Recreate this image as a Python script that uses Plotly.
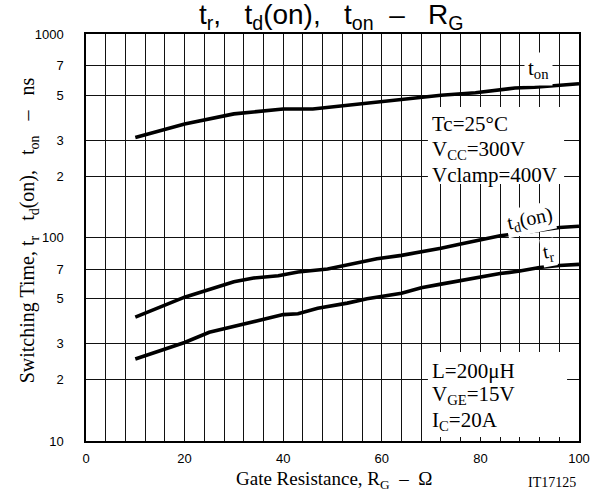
import plotly.graph_objects as go

# ---- data ----
rg_ton = [10, 20, 30, 36, 40, 46, 51, 57, 64, 72, 79, 87, 91, 100]
t_on = [310, 361, 405, 421, 428, 428, 441, 455, 474, 500, 514, 543, 547, 570]

rg_tdon = [10, 20, 30, 34, 39, 43, 49, 59, 64, 68, 72, 76, 80, 84, 88, 92, 96, 100]
t_don = [40.6, 50.9, 60.6, 63.2, 64.9, 67.7, 70, 78.6, 81.7, 85, 88.5, 93, 97.7, 102, 105, 108, 112, 113.5]

rg_tr = [10, 20, 25, 30, 35, 40, 43, 47, 53, 57, 64, 68, 72, 76, 80, 84, 88, 92, 96, 100]
t_r = [25.3, 30.5, 34.2, 36.6, 39.2, 41.8, 42.2, 44.9, 47.6, 50, 53.2, 56.6, 59, 61.4, 63.8, 66.5, 68.4, 71.2, 72.9, 73.8]

x_tickvals = list(range(0, 101, 4))
x_ticktext = [str(v) if v % 20 == 0 else "" for v in x_tickvals]
y_tickvals = [10, 20, 30, 50, 70, 100, 200, 300, 500, 700, 1000]
y_ticktext = ["10", "2", "3", "5", "7", "100", "2", "3", "5", "7", "1000"]

cond_upper = ["Tc=25°C", "V<sub>CC</sub>=300V", "Vclamp=400V"]
cond_lower = ["L=200μH", "V<sub>GE</sub>=15V", "I<sub>C</sub>=20A"]

SANS = "Liberation Sans, Arial, sans-serif"
SERIF = "Liberation Serif, Times New Roman, serif"
NB = "\u00a0"

L, R, T, B = 86, 20, 34, 54
W, H = 602, 495
PW, PH = W - L - R, H - T - B


def px(xp):
    return (xp - L) / PW


def py(yp):
    return (H - B - yp) / PH


fig = go.Figure()
for xs, ys in [(rg_ton, t_on), (rg_tdon, t_don), (rg_tr, t_r)]:
    fig.add_trace(go.Scatter(x=xs, y=ys, mode="lines",
                             line=dict(color="black", width=3.6),
                             showlegend=False, hoverinfo="skip"))

fig.update_layout(
    width=W, height=H,
    margin=dict(l=L, r=R, t=T, b=B),
    paper_bgcolor="white", plot_bgcolor="white",
    showlegend=False,
)
fig.update_xaxes(
    range=[0, 100], tickmode="array", tickvals=x_tickvals, ticktext=x_ticktext,
    showgrid=True, gridcolor="#111", gridwidth=1.2,
    showline=True, linecolor="black", linewidth=1.5, mirror=True,
    ticks="", tickfont=dict(family=SANS, size=13, color="black"),
    ticklabelstandoff=5, zeroline=False,
)
fig.update_yaxes(
    type="log", range=[1, 3], tickmode="array", tickvals=y_tickvals, ticktext=y_ticktext,
    showgrid=True, gridcolor="#111", gridwidth=1.2,
    showline=True, linecolor="black", linewidth=1.5, mirror=True,
    ticks="", tickfont=dict(family=SANS, size=13, color="black"),
    ticklabelstandoff=18, zeroline=False,
)

# white backgrounds behind the condition texts (cover the grid)
shapes = [
    dict(type="rect", xref="paper", yref="paper", x0=px(430), x1=px(567), y0=py(184), y1=py(107),
         fillcolor="white", line=dict(width=0), layer="above"),
    dict(type="rect", xref="paper", yref="paper", x0=px(430), x1=px(570), y0=py(437), y1=py(352),
         fillcolor="white", line=dict(width=0), layer="above"),
]
fig.update_layout(shapes=shapes)

ann = []
# chart title
ann.append(dict(text="t<sub>r</sub>," + NB * 3 + "t<sub>d</sub>(on)," + NB * 3 + "t<sub>on</sub>" + NB * 2 + "–" + NB * 3 + "R<sub>G</sub>",
                xref="paper", yref="paper", x=px(333), y=1.0, xanchor="center", yanchor="bottom",
                yshift=-2, showarrow=False, font=dict(family=SANS, size=28, color="black")))
# axis titles
ann.append(dict(text="Switching Time, t<sub>r</sub>" + NB * 3 + "t<sub>d</sub>(on)," + NB * 3 +
                     "t<sub>on</sub>" + NB * 3 + "–" + NB * 3 + "ns",
                xref="paper", yref="paper", x=px(28), y=py(230), xanchor="center", yanchor="middle",
                textangle=-90, showarrow=False, font=dict(family=SERIF, size=20, color="black")))
ann.append(dict(text="Gate Resistance, R<sub>G</sub>" + NB * 2 + "–" + NB * 2 + "Ω",
                xref="paper", yref="paper", x=px(336), y=py(480), xanchor="center", yanchor="middle",
                showarrow=False, font=dict(family=SERIF, size=19, color="black")))
ann.append(dict(text="IT17125", xref="paper", yref="paper", x=px(581), y=py(482),
                xanchor="right", yanchor="middle",
                showarrow=False, font=dict(family=SERIF, size=14, color="black")))
# condition texts, one line each
for txt, yc in zip(cond_upper, [124, 150, 175]):
    ann.append(dict(text=txt, xref="paper", yref="paper", x=px(432), y=py(yc),
                    xanchor="left", yanchor="middle", align="left", showarrow=False,
                    font=dict(family=SERIF, size=21, color="black")))
for txt, yc in zip(cond_lower, [371, 395, 421]):
    ann.append(dict(text=txt, xref="paper", yref="paper", x=px(432), y=py(yc),
                    xanchor="left", yanchor="middle", align="left", showarrow=False,
                    font=dict(family=SERIF, size=21, color="black")))
# curve labels
ann.append(dict(text="t<sub>on</sub>", xref="paper", yref="paper", x=px(541), y=py(69),
                xanchor="center", yanchor="middle",
                showarrow=False, bgcolor="white", borderpad=3,
                font=dict(family=SERIF, size=21, color="black")))
ann.append(dict(text="t<sub>d</sub>(on)", xref="paper", yref="paper", x=px(533), y=py(219),
                xanchor="center", yanchor="middle",
                textangle=-12, showarrow=False, bgcolor="white", borderpad=1,
                font=dict(family=SERIF, size=20, color="black")))
ann.append(dict(text="t<sub>r</sub>", xref="paper", yref="paper", x=px(551), y=py(252),
                xanchor="center", yanchor="middle",
                textangle=-10, showarrow=False, bgcolor="white", borderpad=1,
                font=dict(family=SERIF, size=20, color="black")))
fig.update_layout(annotations=ann)

fig.write_html("out.html")
